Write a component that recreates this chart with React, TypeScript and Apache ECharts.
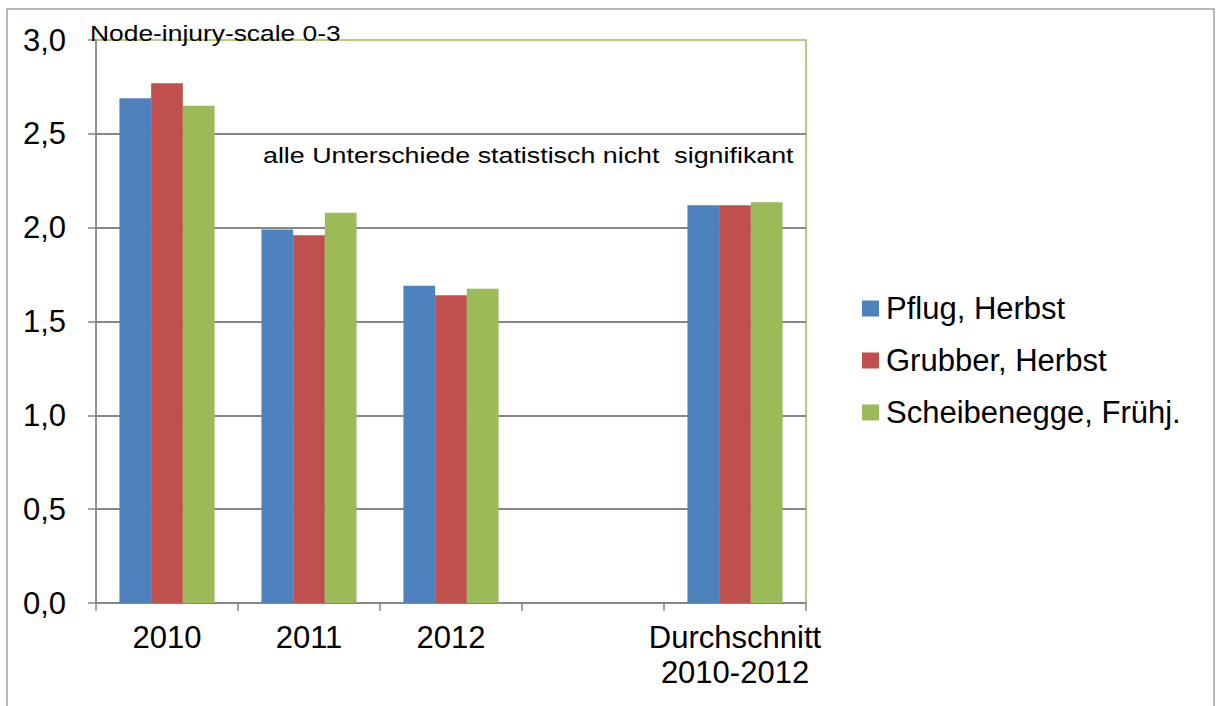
import React, { useEffect, useRef } from "react";
import * as echarts from "echarts";

const categories = ["2010", "2011", "2012", "", "Durchschnitt\n2010-2012"];
const seriesNames = ["Pflug, Herbst", "Grubber, Herbst", "Scheibenegge, Frühj."];
const pflug = [2.69, 1.99, 1.69, null, 2.12];
const grubber = [2.77, 1.96, 1.64, null, 2.12];
const scheibe = [2.65, 2.08, 1.675, null, 2.135];
const colors = ["#4f81bd", "#c0504d", "#9bbb59"];
const yTicks = { min: 0, max: 3, interval: 0.5 };
const scaleTitle = "Node-injury-scale 0-3";
const noteText = "alle Unterschiede statistisch nicht  signifikant";

const FONT = "'Liberation Sans', Arial, sans-serif";

export default function App() {
  const ref = useRef<HTMLDivElement>(null);
  useEffect(() => {
    if (!ref.current) return;
    const chart = echarts.init(ref.current, null, { renderer: "svg" });
    const data = [pflug, grubber, scheibe];
    chart.setOption({
      animation: false,
      backgroundColor: "#ffffff",
      textStyle: { fontFamily: FONT },
      grid: {
        left: 96,
        right: 410,
        top: 40,
        bottom: 103,
        show: true,
        borderColor: "#9bbb59",
        borderWidth: 1.5,
        backgroundColor: "transparent",
      },
      legend: {
        orient: "vertical",
        left: 862,
        top: 293,
        padding: 0,
        itemWidth: 17,
        itemHeight: 16,
        itemGap: 21,
        icon: "rect",
        textStyle: {
          fontSize: 31,
          lineHeight: 31,
          color: "#000",
          fontFamily: FONT,
          padding: [0, 0, 0, 2],
        },
        data: seriesNames,
      },
      xAxis: {
        type: "category",
        data: categories,
        axisLine: { show: true, lineStyle: { color: "#868686", width: 1.5 } },
        axisTick: { show: true, length: 8, lineStyle: { color: "#868686", width: 1.5 } },
        axisLabel: {
          color: "#000",
          fontSize: 31,
          lineHeight: 35,
          margin: 17,
          interval: 0,
          fontFamily: FONT,
        },
        splitLine: { show: false },
      },
      yAxis: {
        type: "value",
        min: yTicks.min,
        max: yTicks.max,
        interval: yTicks.interval,
        axisLine: { show: true, lineStyle: { color: "#868686", width: 1.5 } },
        axisTick: { show: true, length: 8, lineStyle: { color: "#868686", width: 1.5 } },
        axisLabel: {
          color: "#000",
          fontSize: 31,
          margin: 30,
          fontFamily: FONT,
          formatter: (v: number) => v.toFixed(1).replace(".", ","),
        },
        splitLine: {
          show: true,
          showMaxLine: false,
          lineStyle: { color: "#868686", width: 1.8 },
        },
      },
      series: seriesNames.map((name, i) => ({
        name,
        type: "bar",
        data: data[i],
        barGap: "0%",
        barCategoryGap: "33%",
        itemStyle: { color: colors[i] },
      })),
      graphic: [
        {
          type: "rect",
          shape: { x: 7, y: 9, width: 1207, height: 720 },
          style: { fill: "none", stroke: "#a0a0a0", lineWidth: 1.5 },
          z: -10,
          silent: true,
        },
        {
          type: "text",
          x: 90,
          y: 22,
          scaleX: 1.2,
          style: {
            text: scaleTitle,
            fontSize: 22,
            fontFamily: FONT,
            fill: "#000",
            textAlign: "left",
            textVerticalAlign: "top",
          },
          z: 10,
        },
        {
          type: "text",
          x: 263,
          y: 144,
          scaleX: 1.22,
          style: {
            text: noteText,
            fontSize: 22,
            fontFamily: FONT,
            fill: "#000",
            textAlign: "left",
            textVerticalAlign: "top",
          },
          z: 10,
        },
      ],
    });
    return () => chart.dispose();
  }, []);
  return (
    <div
      ref={ref}
      style={{ position: "absolute", left: 0, top: 0, width: 1216, height: 706 }}
    />
  );
}
